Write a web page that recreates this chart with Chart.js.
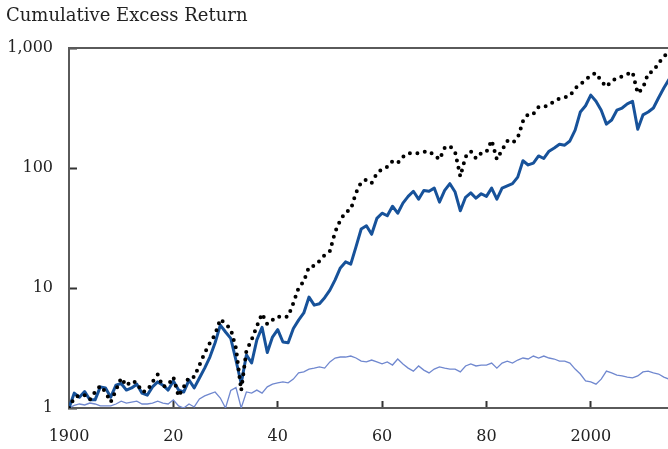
<!DOCTYPE html>
<html>
<head>
<meta charset="utf-8">
<title>Cumulative Excess Return</title>
<script src="https://cdn.jsdelivr.net/npm/chart.js@4.4.1/dist/chart.umd.min.js"></script>
<style>
  html, body { margin: 0; padding: 0; background: #fff; }
  canvas { display: block; }
</style>
</head>
<body>
<canvas id="returnChart" width="668" height="449"></canvas>
<script>
// years 1900 .. 2015, one value per year
const years = [];
for (let yr = 1900; yr <= 2015; yr++) years.push(yr);

// dotted black series
const dottedSeries = [
  1.0, 1.21, 1.28, 1.28, 1.17, 1.36, 1.53, 1.36, 1.12, 1.41,
  1.78, 1.53, 1.68, 1.62, 1.36, 1.39, 1.65, 1.9, 1.5, 1.55,
  1.81, 1.25, 1.5, 1.81, 1.81, 2.28, 2.87, 3.48, 4.1, 5.5,
  5.0, 4.55, 3.16, 1.4, 3.0, 3.7, 4.8, 6.1, 5.0, 5.4,
  5.8, 5.7, 5.8, 7.5, 10, 11.4, 15, 15.3, 16.8, 18.8,
  20.3, 29.3, 36.8, 43, 45, 62, 76, 80, 75, 90,
  98, 102, 114, 110, 124, 133, 133, 133, 136, 138,
  128, 118, 147, 153, 136, 85, 124, 138, 120, 133,
  136, 170, 118, 141, 168, 162, 178, 245, 282, 282,
  322, 322, 335, 360, 380, 387, 400, 460, 500, 540,
  594, 617, 530, 475, 530, 560, 580, 605, 630, 420,
  464, 617, 640, 750, 840, 950
];

// solid dark blue series
const solidSeries = [
  1.0, 1.33, 1.23, 1.37, 1.17, 1.17, 1.5, 1.47, 1.23, 1.55,
  1.6, 1.41, 1.47, 1.58, 1.33, 1.28, 1.5, 1.65, 1.55, 1.41,
  1.68, 1.41, 1.36, 1.71, 1.47, 1.78, 2.15, 2.66, 3.5, 4.9,
  4.3, 3.8, 2.5, 1.6, 2.77, 2.37, 3.7, 4.7, 2.9, 3.9,
  4.5, 3.55, 3.5, 4.6, 5.4, 6.2, 8.4, 7.2, 7.4, 8.3,
  9.6, 11.7, 14.7, 16.5, 15.8, 22, 31, 33, 28, 38,
  42, 40, 48, 42, 51, 58, 64, 55, 65, 64,
  68, 52, 65, 74, 63, 44, 57, 62, 56, 61,
  58, 68, 55, 68, 71, 74, 84, 115, 106, 110,
  126, 120, 138, 147, 158, 155, 168, 207, 293, 330,
  405, 360, 303, 232, 251, 303, 316, 342, 360, 210,
  277, 293, 316, 385, 464, 550
];

// thin light blue series
const thinSeries = [
  1.0, 1.05, 1.08, 1.06, 1.1, 1.08, 1.04, 1.04, 1.04, 1.08,
  1.14, 1.1, 1.12, 1.14, 1.08, 1.08, 1.1, 1.14, 1.1, 1.08,
  1.17, 1.04, 1.0, 1.08, 1.02, 1.19, 1.26, 1.31, 1.36, 1.21,
  1.0, 1.4, 1.48, 1.0, 1.36, 1.33, 1.41, 1.33, 1.5, 1.58,
  1.62, 1.65, 1.62, 1.74, 1.96, 2.0, 2.11, 2.15, 2.2, 2.15,
  2.42, 2.61, 2.66, 2.66, 2.71, 2.61, 2.46, 2.42, 2.51, 2.42,
  2.33, 2.42, 2.28, 2.56, 2.33, 2.15, 2.03, 2.24, 2.07, 1.96,
  2.11, 2.2, 2.15, 2.11, 2.11, 2.0, 2.24, 2.33, 2.24, 2.28,
  2.28, 2.37, 2.15, 2.37, 2.46, 2.37, 2.51, 2.61, 2.56, 2.71,
  2.61, 2.71, 2.61, 2.56, 2.46, 2.46, 2.37, 2.11, 1.92, 1.68,
  1.65, 1.58, 1.74, 2.03, 1.96, 1.88, 1.85, 1.81, 1.78, 1.85,
  2.0, 2.03, 1.96, 1.92, 1.81, 1.74
];

const xTickValues = [1900, 1920, 1940, 1960, 1980, 2000];
const xTickLabels = ['1900', '20', '40', '60', '80', '2000'];
const yTickValues = [1, 10, 100, 1000];
const yTickLabels = ['1', '10', '100', '1,000'];
const chartTitle = 'Cumulative Excess Return';

const axisColor = '#5a5a5a';
const fontFamily = '"DejaVu Serif", serif';

function toPoints(values) {
  return years.map((yr, i) => ({ x: yr, y: values[i] }));
}

// title and top border of the frame
const frameAndTitle = {
  id: 'frameAndTitle',
  afterDraw(chart) {
    const c = chart.ctx;
    const area = chart.chartArea;

    c.save();
    c.strokeStyle = axisColor;
    c.lineWidth = 2;
    c.beginPath();
    c.moveTo(area.left - 1, area.top);
    c.lineTo(area.right, area.top);
    c.stroke();

    c.fillStyle = '#222';
    c.font = '18px ' + fontFamily;
    c.textBaseline = 'middle';
    c.textAlign = 'left';
    c.fillText(chartTitle, 6, 16);
    c.restore();
  }
};

const ctx = document.getElementById('returnChart').getContext('2d');

const chart = new Chart(ctx, {
  type: 'line',
  data: {
    datasets: [
      {
        label: 'Dotted',
        data: toPoints(dottedSeries),
        borderColor: '#000',
        borderWidth: 4,
        borderDash: [0, 7.5],
        borderCapStyle: 'round',
        pointRadius: 0,
        tension: 0,
        order: 0,
      },
      {
        label: 'Solid',
        data: toPoints(solidSeries),
        borderColor: '#17529a',
        borderWidth: 3,
        borderJoinStyle: 'round',
        pointRadius: 0,
        tension: 0,
        order: 1,
      },
      {
        label: 'Thin',
        data: toPoints(thinSeries),
        borderColor: '#7088cf',
        borderWidth: 1.3,
        pointRadius: 0,
        tension: 0,
        order: 2,
      }
    ]
  },
  options: {
    responsive: false,
    animation: false,
    layout: { padding: { top: 48, right: 0, bottom: 0, left: 0 } },
    plugins: {
      legend: { display: false },
      tooltip: { enabled: false },
      title: { display: false }
    },
    scales: {
      x: {
        type: 'linear',
        min: 1900,
        max: 2014.8,
        grid: {
          drawOnChartArea: false,
          drawTicks: true,
          tickLength: -7,
          tickWidth: 2,
          tickColor: '#333'
        },
        border: { display: true, color: axisColor, width: 2 },
        afterBuildTicks: function (axis) {
          axis.ticks = xTickValues.map(v => ({ value: v }));
        },
        afterFit: function (axis) {
          axis.height = 41;
        },
        ticks: {
          padding: 26,
          maxRotation: 0,
          autoSkip: false,
          color: '#222',
          font: { family: fontFamily, size: 16 },
          callback: function (value) {
            const i = xTickValues.indexOf(value);
            return i >= 0 ? xTickLabels[i] : '';
          }
        }
      },
      y: {
        type: 'logarithmic',
        min: 1,
        max: 1000,
        grid: {
          drawOnChartArea: false,
          drawTicks: true,
          tickLength: -8,
          tickWidth: 2,
          tickColor: '#333'
        },
        border: { display: true, color: axisColor, width: 2 },
        afterBuildTicks: function (axis) {
          axis.ticks = yTickValues.map(v => ({ value: v }));
        },
        afterFit: function (axis) {
          axis.width = 69;
        },
        ticks: {
          padding: 24,
          autoSkip: false,
          color: '#222',
          font: { family: fontFamily, size: 16 },
          callback: function (value) {
            const i = yTickValues.indexOf(value);
            return i >= 0 ? yTickLabels[i] : '';
          }
        }
      }
    }
  },
  plugins: [frameAndTitle]
});
</script>
</body>
</html>
